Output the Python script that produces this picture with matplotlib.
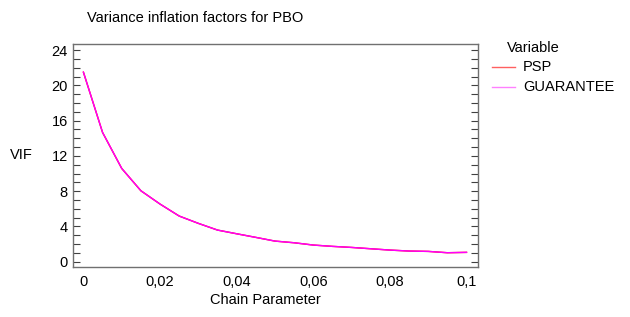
import matplotlib
matplotlib.use("Agg")
import matplotlib.pyplot as plt
from matplotlib.ticker import MultipleLocator, FuncFormatter

plt.rcParams['font.family'] = ['Liberation Sans', 'DejaVu Sans']

chain = [0, 0.005, 0.01, 0.015, 0.02, 0.025, 0.03, 0.035, 0.04, 0.045, 0.05,
         0.055, 0.06, 0.065, 0.07, 0.075, 0.08, 0.085, 0.09, 0.095, 0.1]
vif_guarantee = [21.5, 14.66, 10.58, 8.05, 6.54, 5.18, 4.35, 3.59, 3.17, 2.76, 2.34,
                 2.15, 1.89, 1.74, 1.62, 1.47, 1.32, 1.21, 1.17, 1.02, 1.06]
vif_psp = list(vif_guarantee)
series_names = ["PSP", "GUARANTEE"]

fig = plt.figure(figsize=(6.3, 3.17), dpi=100)
ax = fig.add_axes([72.7/630, 1 - 267/317, (478 - 72.7)/630, (267 - 44)/317])

ax.plot(chain, vif_psp, color='#ff0000', lw=1.0, label=series_names[0])
ax.plot(chain, vif_guarantee, color='#ff00ff', lw=1.0, label=series_names[1])

ax.set_xlim(-0.0028, 0.103)
ax.set_ylim(-0.6, 24.7)
ax.yaxis.set_major_locator(MultipleLocator(4))
ax.yaxis.set_minor_locator(MultipleLocator(1))
ax.xaxis.set_major_locator(MultipleLocator(0.02))
ax.xaxis.set_minor_locator(MultipleLocator(0.005))

def fmt(v, pos):
    s = ('%.2f' % v).rstrip('0').rstrip('.')
    if abs(v) < 1e-9:
        s = '0'
    return s.replace('.', ',')
ax.xaxis.set_major_formatter(FuncFormatter(fmt))

for sp in ax.spines.values():
    sp.set_color('#707070')
    sp.set_linewidth(1.0)
ax.tick_params(which='both', direction='in', top=True, right=True, color='#404040',
               labelsize=10.5, labelcolor='black')
ax.tick_params(which='major', length=5, width=0.8)
ax.tick_params(which='minor', length=5, width=0.8)
ax.tick_params(axis='x', which='both', top=False, length=0)
ax.tick_params(axis='x', pad=6)

fig.text(195/630, 1 - 18/317, "Variance inflation factors for PBO", ha='center', va='center', fontsize=10.5)
fig.text(265/630, 1 - 300/317, "Chain Parameter", ha='center', va='center', fontsize=10.5)
fig.text(10/630, 1 - 155/317, "VIF", ha='left', va='center', fontsize=10.5)

# legend
fig.text(533/630, 1 - 48/317, "Variable", ha='center', va='center', fontsize=10.5)
leg_colors = ['#ff6060', '#ff80ff']
for i, (name, c) in enumerate(zip(series_names, leg_colors)):
    y = 1 - (67 + 20 * i) / 317
    fig.add_artist(plt.Line2D([492/630, 515/630], [y, y], color=c, lw=1.0))
    fig.text(523/630, y, name, ha='left', va='center', fontsize=10.5)

fig.savefig('out.png', dpi=100)
